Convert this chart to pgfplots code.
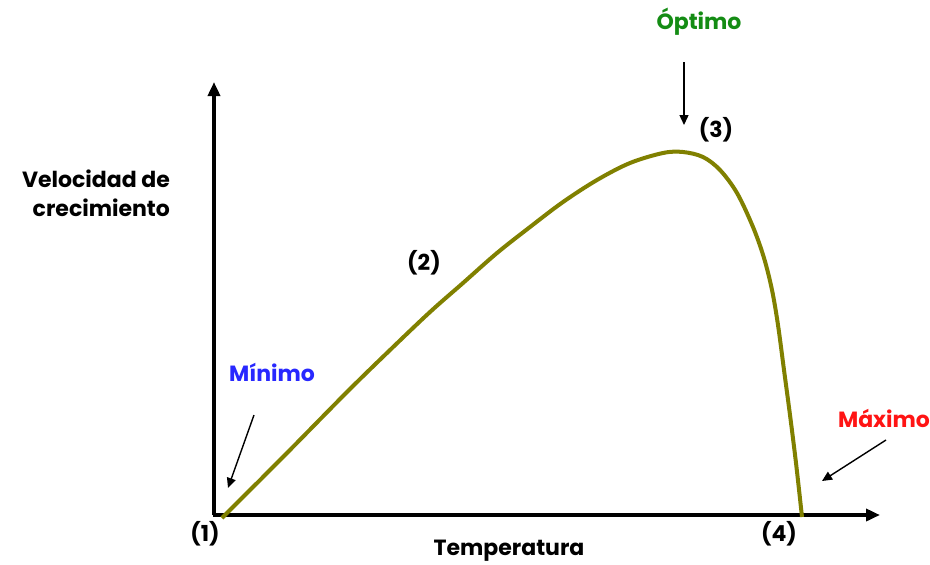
\documentclass[border=0pt]{standalone}
\usepackage{pgfplots}
\pgfplotsset{compat=1.18}
\usetikzlibrary{arrows.meta}
\usepackage{fontspec}
\setmainfont{Poppins}
\definecolor{curvecol}{RGB}{128,128,0}
\definecolor{optcol}{RGB}{20,140,20}
\definecolor{mincol}{RGB}{40,40,255}
\definecolor{maxcol}{RGB}{255,20,20}
\begin{document}
\begin{tikzpicture}
\begin{axis}[
  scale only axis,
  width=333pt, height=216.5pt,
  xmin=0, xmax=666, ymin=0, ymax=433,
  axis lines=none,
  clip=false,
  font=\fontsize{11pt}{14.5pt}\selectfont\bfseries,
]
\coordinate (bl) at (axis cs:-214,-49);
\coordinate (tr) at (axis cs:716,515);
% axes
\draw[line width=2pt, -{Triangle[length=7pt,width=6pt]}] (axis cs:0,0) -- (axis cs:0,433);
\draw[line width=2pt, -{Triangle[length=7pt,width=6pt]}] (axis cs:-1,0) -- (axis cs:666,0);
% curve
\addplot[curvecol, line width=2pt, smooth, tension=0.55] coordinates {
(8,-3) (70,59) (133,123) (175,164) (216,203) (249,232) (283,262) (316,288) (349,313) (383,335) (416,352) (449,362) (469,363) (489,358) (506,345) (523,322) (539,288) (550,257) (558,225) (564,190) (570,145) (576,100) (582,52) (588,-2)
};
% labels
\node[align=right, anchor=east] at (axis cs:-37,322) {Velocidad de\\crecimiento};
\node[optcol] at (axis cs:485,493) {Óptimo};
\draw[line width=0.7pt, -{Triangle[length=5pt,width=4.5pt]}] (axis cs:470,453) -- (axis cs:470,390);
\node at (axis cs:502,385) {(3)};
\node at (axis cs:210,252) {(2)};
\node[mincol] at (axis cs:58,143) {Mínimo};
\draw[line width=0.7pt, -{Triangle[length=5pt,width=4.5pt]}] (axis cs:40,100) -- (axis cs:14,27);
\node[maxcol] at (axis cs:670,97) {Máximo};
\draw[line width=0.7pt, -{Triangle[length=5pt,width=4.5pt]}] (axis cs:672,75) -- (axis cs:608,34);
\node at (axis cs:-9,-19) {(1)};
\node at (axis cs:565,-19) {(4)};
\node at (axis cs:295,-36) {Temperatura};
\end{axis}
\pgfresetboundingbox
\path (bl) rectangle (tr);
\end{tikzpicture}
\end{document}
